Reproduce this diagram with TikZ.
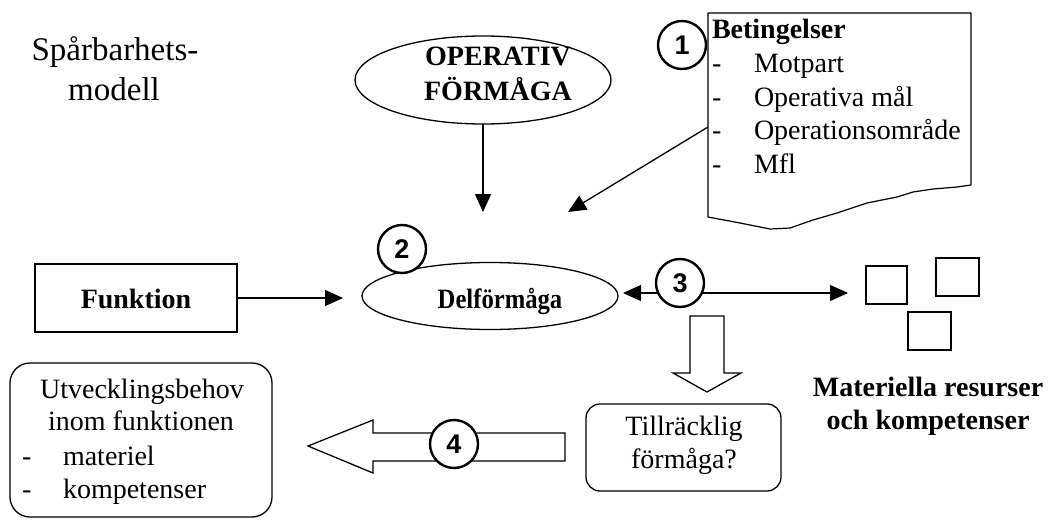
\documentclass[tikz,border=0pt]{standalone}
\usepackage{graphicx}
\usepackage{fontspec}
\setmainfont{Liberation Serif}
\newfontfamily\numfont{Liberation Sans}
\usetikzlibrary{arrows.meta,shapes.geometric}
\begin{document}
\begin{tikzpicture}[x=1pt,y=-1pt,
  every node/.style={inner sep=0pt, outer sep=0pt},
  txt/.style={font=\fontsize{28}{33.5}\selectfont},
  btxt/.style={font=\fontsize{28}{33.5}\selectfont\bfseries},
  outline/.style={draw, line width=1.3pt},
  numcirc/.style={circle, draw, line width=2.4pt, fill=white, minimum size=48pt,
    font=\numfont\bfseries\fontsize{27}{27}\selectfont},
  arr/.style={line width=1.3pt, -{Triangle[length=18pt,width=16pt]}},
  darr/.style={line width=1.3pt, {Triangle[length=18pt,width=16pt]}-{Triangle[length=18pt,width=16pt]}},
  hollow/.style={draw, line width=1.3pt, fill=white, line join=miter},
]
\useasboundingbox (0,0) rectangle (1059,519);

% title
\node[anchor=base, font=\fontsize{33}{40}\selectfont] (title1) at (115,60) {Spårbarhets-};
\node[anchor=base, font=\fontsize{33}{40}\selectfont] (title2) at (114,100) {modell};

% operative capability
\node[ellipse, outline, minimum width=256pt, minimum height=88pt] (op) at (483,80) {};
\node[btxt, anchor=base] (opa) at (498,66) {OPERATIV};
\node[btxt, anchor=base] (opb) at (498,100) {FÖRMÅGA};

% conditions (torn sheet)
\coordinate (cond) at (708,127);
\draw[line width=1.2pt, line join=round]
  (708,13) -- (971,13) -- (971,185) -- (957,187) -- (933,189) -- (913,192)
  -- (897,197) -- (867,203) -- (837,213) -- (813,220) -- (790,228)
  -- (770,229) -- (740,223) -- (708,217) -- cycle;
\node[btxt, anchor=base west] (bet) at (712,39) {Betingelser};
\node[txt, anchor=base west] (d1) at (712,73) {-};
\node[txt, anchor=base west] (d2) at (712,106) {-};
\node[txt, anchor=base west] (d3) at (712,139) {-};
\node[txt, anchor=base west] (d4) at (712,173) {-};
\node[txt, anchor=base west] (b1) at (754,73) {Motpart};
\node[txt, anchor=base west] (b2) at (754,106) {Operativa mål};
\node[txt, anchor=base west] (b3) at (754,139) {Operationsområde};
\node[txt, anchor=base west] (b4) at (754,173) {Mfl};

% sub-capability
\node[ellipse, outline, minimum width=256pt, minimum height=67pt] (del) at (490,296) {};
\node[btxt, anchor=base] (delt) at (500,308) {\scalebox{0.88}[1]{Delförmåga}};

% function
\node[rectangle, outline, minimum width=202pt, minimum height=68pt] (fun) at (136,298) {};
\node[btxt, anchor=base] (funt) at (136,308) {Funktion};

% resources
\node[rectangle, outline, minimum width=41pt, minimum height=38pt] (sq1) at (886.5,285) {};
\node[rectangle, outline, minimum width=43pt, minimum height=38pt] (sq2) at (957.5,277) {};
\node[rectangle, outline, minimum width=43pt, minimum height=38pt] (sq3) at (929.5,331) {};
\node[btxt, anchor=base] (res1) at (928,396) {Materiella resurser};
\node[btxt, anchor=base] (res2) at (928,429) {och kompetenser};

% connectors
\coordinate (opend) at (483,212);
\coordinate (condend) at (568,212);
\coordinate (funend) at (343,298);
\coordinate (resend) at (848,293);
\coordinate (delend) at (623,293);
\draw[arr] (op.south) -- (opend);
\draw[arr] (cond) -- (condend);
\draw[arr] (fun.east) -- (funend);
\draw[darr] (delend) -- (resend);

% sufficient capability?
\draw[hollow] (690,316) -- (724,316) -- (724,373) -- (741,373) -- (707,392)
  -- (673,373) -- (690,373) -- cycle;
\node[rectangle, outline, rounded corners=14pt, minimum width=195pt, minimum height=87pt] (suff) at (683.5,447.5) {};
\node[txt, anchor=base] (suff1) at (684,435) {Tillräcklig};
\node[txt, anchor=base] (suff2) at (684,468) {förmåga?};

% development need
\draw[hollow] (565,433) -- (565,461) -- (373,461) -- (373,473) -- (308,446)
  -- (373,420) -- (373,433) -- cycle;
\node[rectangle, outline, rounded corners=20pt, minimum width=262pt, minimum height=154pt] (dev) at (141,440) {};
\node[txt, anchor=base] (dev1) at (142,398) {Utvecklingsbehov};
\node[txt, anchor=base] (dev2) at (141,430) {inom funktionen};
\node[txt, anchor=base west] (dv1) at (22,465) {-};
\node[txt, anchor=base west] (dv2) at (22,498) {-};
\node[txt, anchor=base west] (dev3) at (63,465) {materiel};
\node[txt, anchor=base west] (dev4) at (63,498) {kompetenser};

% step numbers
\node[numcirc] (n1) at (682,45) {1};
\node[numcirc] (n2) at (402,249) {2};
\node[numcirc] (n3) at (680,283) {3};
\node[numcirc] (n4) at (454,444) {4};
\end{tikzpicture}
\end{document}
